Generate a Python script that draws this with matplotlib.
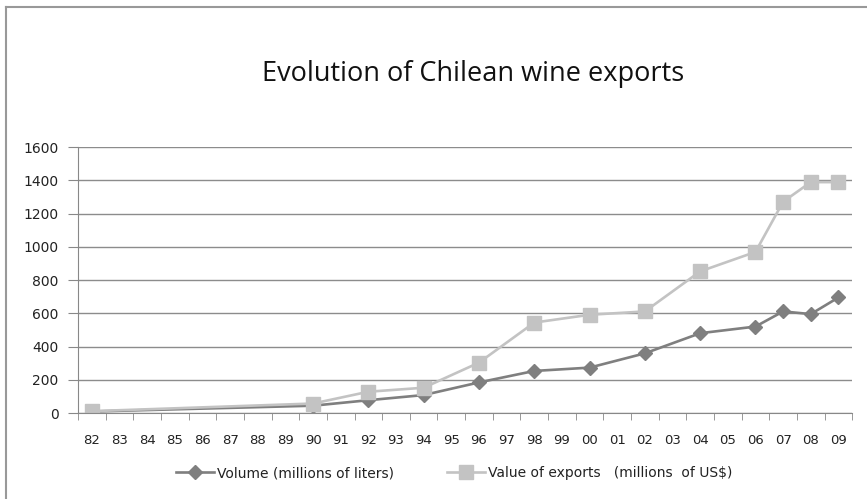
import matplotlib.pyplot as plt
import numpy as np
from matplotlib.lines import Line2D

# categorias (anos) e séries
anos = ["82", "83", "84", "85", "86", "87", "88", "89", "90", "91", "92", "93", "94",
        "95", "96", "97", "98", "99", "00", "01", "02", "03", "04", "05", "06", "07",
        "08", "09"]
anos_dados = ["82", "90", "92", "94", "96", "98", "00", "02", "04", "06", "07", "08", "09"]
volume = [10, 45, 78, 109, 185, 254, 274, 360, 481, 521, 612, 596, 696]
valor = [12, 58, 129, 153, 304, 545, 592, 612, 853, 970, 1272, 1390, 1390]

fig = plt.figure(figsize=(8.67, 4.99), dpi=100)
ax = fig.add_axes([0.090, 0.172, 0.893, 0.533])

pos = [anos.index(a) for a in anos_dados]
ax.plot(pos, volume, color="#7f7f7f", lw=1.9, marker="D", ms=7,
        label="Volume (millions of liters)")
ax.plot(pos, valor, color="#c3c3c3", lw=1.9, marker="s", ms=9.5,
        label="Value of exports   (millions  of US$)")

ax.set_xlim(-0.5, len(anos) - 0.5)
ax.set_ylim(0, 1600)
ax.set_yticks(np.arange(0, 1601, 200))
ax.set_xticks(range(len(anos)))
ax.set_xticklabels(anos, fontsize=9.5)
ax.set_xticks(np.arange(-0.5, len(anos), 1), minor=True)
ax.tick_params(axis="x", which="major", length=0, pad=15)
ax.tick_params(axis="x", which="minor", length=5, color="#888888")
ax.tick_params(axis="y", length=7, color="#888888", labelsize=10, pad=7,
               labelcolor="#222222")
ax.tick_params(axis="x", labelcolor="#222222")
ax.grid(axis="y", color="#8c8c8c", linewidth=1)
ax.set_axisbelow(True)

for s in ["top", "right"]:
    ax.spines[s].set_visible(False)
for s in ["left", "bottom"]:
    ax.spines[s].set_color("#888888")

fig.text(0.546, 0.852, "Evolution of Chilean wine exports", ha="center", va="center",
         fontsize=19.5, family="Open Sans", color="#111111")

leg = fig.legend(loc="center left", bbox_to_anchor=(0.189, 0.052), ncol=2, frameon=False,
                 prop={"size": 10}, handlelength=2.7, columnspacing=3.8,
                 handletextpad=0.25, labelcolor="#222222")

# moldura do gráfico
fig.add_artist(Line2D([0.0065, 0.0065], [0, 0.986], color="#999999", lw=1.5))
fig.add_artist(Line2D([0.0065, 1], [0.986, 0.986], color="#999999", lw=1.5))

plt.savefig("out.png", dpi=100)
